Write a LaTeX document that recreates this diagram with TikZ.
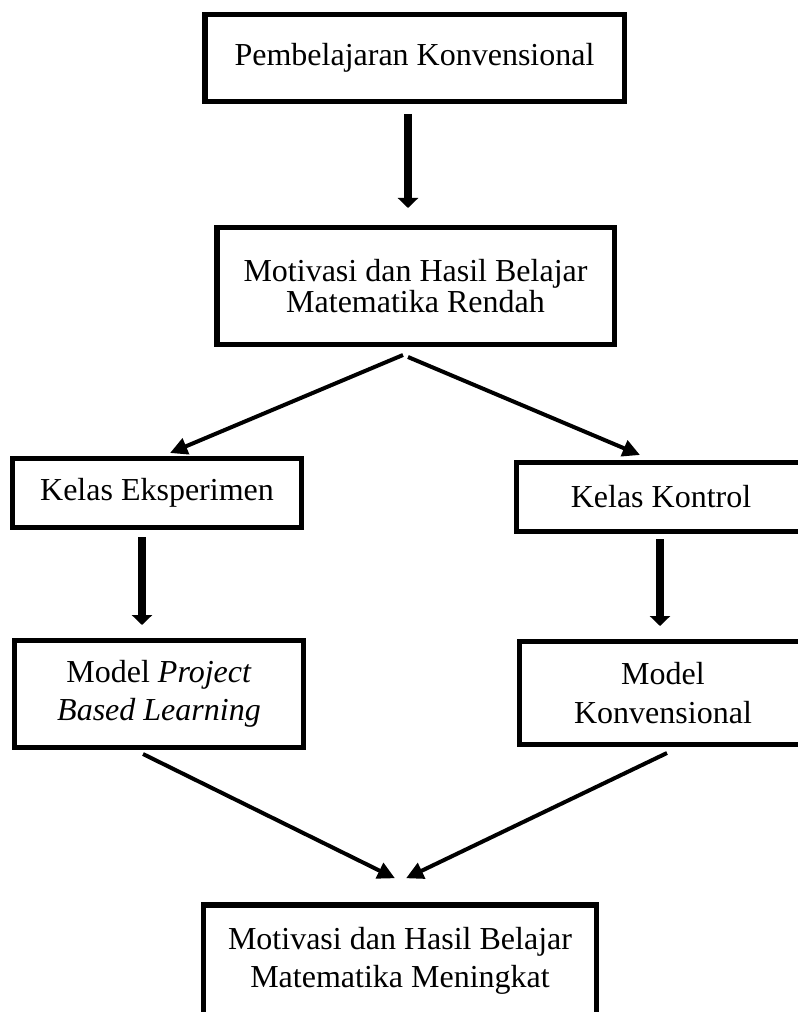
\documentclass[tikz,border=0pt]{standalone}
\usepackage{fontspec}
\setmainfont{Liberation Serif}
\usetikzlibrary{arrows.meta,calc}
\begin{document}
\begin{tikzpicture}[x=0.75pt,y=-0.75pt,
  box/.style={draw,line width=4.1pt,inner sep=0pt,align=center,font=\fontsize{24pt}{28.7pt}\selectfont},
  thickarrow/.style={line width=6pt,-{Triangle[width=15pt,length=7.5pt]}},
  thinarrow/.style={line width=3pt,-{Triangle[width=12.5pt,length=13pt]}}]
\useasboundingbox (0,0) rectangle (798,1012);
\clip (0,0) rectangle (798,1012);
\node[box,minimum width=314.6pt,minimum height=64.9pt] (b1) at (414.5,58) {Pembelajaran Konvensional};
\node[box,minimum width=298.1pt,minimum height=87.4pt,font=\fontsize{24pt}{23.8pt}\selectfont] (b2) at (415.5,286) {Motivasi dan Hasil Belajar\\Matematika Rendah};
\node[box,minimum width=216.4pt,minimum height=51.4pt] (b3l) at (157,493) {Kelas Eksperimen};
\node[box,minimum width=216.4pt,minimum height=79.9pt] (b4l) at (159,694) {Model \textit{Project}\\\textit{Based Learning}};
\node[box,minimum width=216.4pt,minimum height=51.4pt] (b3r) at (661,497) {Kelas Kontrol};
\node[box,minimum width=214.9pt,minimum height=76.9pt] (b4r) at (663,693) {Model\\Konvensional};
\node[box,minimum width=294.4pt,minimum height=84pt] (b5) at (400,961) {Motivasi dan Hasil Belajar\\Matematika Meningkat};
\draw[thickarrow] ($(b1.south)+(-6.5,10)$) -- ($(b2.north)+(-7.5,-17)$);
\draw[thinarrow] ($(b2.south)+(-12.5,8)$) -- ($(b3l.north)+(13,-3)$);
\draw[thinarrow] ($(b2.south)+(-7.5,10)$) -- ($(b3r.north)+(-21,-5)$);
\draw[thickarrow] ($(b3l.south)+(-15,7)$) -- ($(b4l.north)+(-17,-13)$);
\draw[thickarrow] ($(b3r.south)+(-1,5)$) -- ($(b4r.north)+(-3,-13)$);
\draw[thinarrow] ($(b4l.south)+(-16,4)$) -- ($(b5.north)+(-5,-24)$);
\draw[thinarrow] ($(b4r.south)+(4,6)$) -- ($(b5.north)+(6,-24)$);
\end{tikzpicture}
\end{document}
